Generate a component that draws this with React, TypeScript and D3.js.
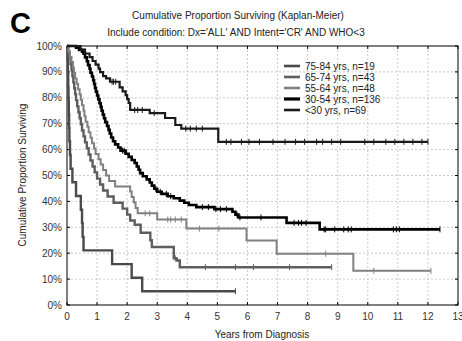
import React, { useEffect } from "react";
import * as d3 from "d3";

// ---------- data ----------
const xTicks = [0, 1, 2, 3, 4, 5, 6, 7, 8, 9, 10, 11, 12, 13];
const yTicks = [0, 10, 20, 30, 40, 50, 60, 70, 80, 90, 100];
const legendLabels = [
  "75-84 yrs,  n=19",
  "65-74 yrs,  n=43",
  "55-64 yrs,  n=48",
  "30-54 yrs,  n=136",
  "<30 yrs,  n=69",
];

// 75-84 yrs
const t75 = [0, 0.02, 0.03, 0.04, 0.05, 0.06, 0.07, 0.08, 0.1, 0.12, 0.18, 0.3, 0.46, 0.5, 0.52, 0.55, 1.5, 2.15, 2.5];
const s75 = [100, 94.7, 89.5, 84.2, 78.9, 73.7, 68.4, 63.2, 57.9, 52.6, 47.4, 42.1, 36.8, 31.6, 26.3, 21.1, 15.8, 10.5, 5.3];
const end75 = 5.6;
const c75: number[] = [];

// 65-74 yrs
const t65 = [0, 0.04, 0.08, 0.12, 0.15, 0.18, 0.21, 0.24, 0.27, 0.3, 0.34, 0.38, 0.42, 0.46, 0.5, 0.55, 0.6, 0.66, 0.72, 0.78, 0.85, 0.92, 1.0, 1.1, 1.2, 1.35, 1.55, 1.85, 2.0, 2.1, 2.25, 2.45, 2.77, 2.82, 3.55, 3.65, 3.75];
const s65 = [100, 97.7, 95.3, 93.0, 90.7, 88.4, 86.0, 83.7, 81.4, 79.1, 76.7, 74.4, 72.1, 69.8, 67.4, 65.1, 62.8, 60.5, 58.1, 55.8, 53.5, 51.2, 48.8, 46.5, 44.2, 41.9, 39.5, 37.2, 34.9, 32.6, 31.0, 27.9, 25.0, 22.4, 18.0, 17.2, 14.6];
const end65 = 8.8;
const c65 = [3.6, 4.6, 5.6, 6.2, 7.4];

// 55-64 yrs
const t55 = [0, 0.05, 0.1, 0.15, 0.2, 0.23, 0.27, 0.32, 0.37, 0.42, 0.46, 0.5, 0.55, 0.58, 0.62, 0.68, 0.72, 0.78, 0.83, 0.9, 0.95, 1.05, 1.12, 1.2, 1.3, 1.4, 1.6, 2.1, 2.15, 2.22, 2.28, 2.35, 3.0, 3.97, 5.97, 6.97, 9.52];
const s55 = [100, 97.9, 95.8, 93.8, 91.7, 89.6, 87.5, 85.4, 83.3, 81.3, 79.2, 77.1, 75.0, 72.9, 70.8, 68.8, 66.7, 64.6, 62.5, 60.4, 58.3, 56.3, 54.2, 52.1, 50.0, 47.9, 45.8, 43.8, 41.7, 39.6, 37.5, 35.4, 33.0, 29.5, 24.9, 19.8, 13.2];
const end55 = 12.1;
const c55 = [2.6, 2.75, 3.35, 3.45, 3.6, 3.8, 4.4, 5.05, 8.6, 10.2];

// 30-54 yrs
const t30 = [0, 0.3, 0.4, 0.5, 0.55, 0.6, 0.66, 0.7, 0.75, 0.78, 0.83, 0.87, 0.9, 0.93, 0.96, 1.0, 1.04, 1.08, 1.12, 1.15, 1.19, 1.23, 1.27, 1.33, 1.38, 1.42, 1.47, 1.53, 1.6, 1.7, 1.78, 1.95, 2.05, 2.15, 2.25, 2.32, 2.38, 2.43, 2.52, 2.65, 2.75, 2.82, 2.9, 3.0, 3.15, 3.35, 3.55, 3.75, 3.9, 4.05, 4.3, 4.9, 5.5, 5.6, 5.7, 7.3, 8.4];
const s30 = [100, 99.3, 98.5, 97.8, 97.0, 95.6, 94.1, 92.6, 91.2, 89.7, 88.2, 86.8, 85.3, 83.8, 82.4, 80.9, 79.4, 77.9, 76.5, 75.0, 73.5, 72.1, 70.6, 69.1, 67.6, 66.2, 64.7, 63.2, 62.0, 60.8, 59.6, 58.4, 57.2, 56.0, 54.8, 53.5, 52.2, 50.9, 49.7, 48.5, 47.3, 46.1, 44.9, 43.7, 42.9, 42.0, 41.2, 40.3, 39.5, 38.6, 37.8, 37.0, 36.0, 34.9, 33.8, 31.7, 29.2];
const end30 = 12.4;
const c30 = [1.85, 1.9, 2.95, 3.1, 3.3, 3.45, 4.5, 4.7, 4.95, 5.1, 5.3, 5.65, 5.75, 6.45, 7.55, 7.7, 7.8, 7.95, 8.55, 8.6, 8.9, 9.2, 9.35, 9.45, 10.85, 10.95, 11.05];

// <30 yrs
const tU = [0, 0.45, 0.6, 0.75, 0.85, 0.95, 1.05, 1.1, 1.2, 1.3, 1.43, 1.75, 1.85, 1.95, 2.0, 2.05, 2.1, 2.75, 3.26, 3.6, 3.8, 5.03];
const sU = [100, 98.6, 97.1, 95.7, 94.2, 92.8, 91.3, 89.9, 88.4, 87.5, 86.2, 84.0, 82.5, 81.0, 79.5, 78.0, 75.3, 74.1, 72.2, 69.5, 68.1, 63.0];
const endU = 12.0;
const cU = [1.5, 1.55, 1.62, 2.25, 2.35, 2.5, 2.9, 3.95, 4.1, 4.3, 4.5, 5.3, 5.45, 5.8, 6.05, 6.4, 6.85, 7.25, 7.6, 7.9, 8.3, 8.5, 8.8, 9.1, 9.9, 10.2, 10.6, 10.9, 11.2, 11.5, 11.8];

const seriesTimes = [t75, t65, t55, t30, tU];
const seriesSurv = [s75, s65, s55, s30, sU];
const seriesEnd = [end75, end65, end55, end30, endU];
const seriesCensor = [c75, c65, c55, c30, cU];

// ---------- styles ----------
const colors = ["#4a4a4a", "#5e5e5e", "#808080", "#000000", "#1a1a1a"];
const widths = [2.4, 2.4, 2.0, 2.6, 2.2];
const FONT = "'Liberation Sans', Arial, sans-serif";

const W = 462;
const H = 341;
const left = 67;
const right = 458;
const top = 46;
const bottom = 305;

export default function App() {
  useEffect(() => {
    document.body.style.margin = "0";
  }, []);

  const x = d3.scaleLinear().domain([0, 13]).range([left, right]);
  const y = d3.scaleLinear().domain([0, 100]).range([bottom, top]);

  const line = d3
    .line<[number, number]>()
    .x((d) => x(d[0]))
    .y((d) => y(d[1]))
    .curve(d3.curveStepAfter);

  const survAt = (ts: number[], ss: number[], t: number) => {
    let v = ss[0];
    for (let i = 0; i < ts.length; i++) if (ts[i] <= t) v = ss[i];
    return v;
  };

  return (
    <svg
      width={W}
      height={H}
      style={{ position: "absolute", left: 0, top: 0, background: "#fff" }}
      fontFamily={FONT}
    >
      <rect x={0} y={0} width={W} height={H} fill="#fff" />
      {/* panel letter */}
      <text x={10} y={33} fontSize={29} fontWeight="bold" fill="#000">
        C
      </text>
      {/* titles */}
      <text x={238} y={19} fontSize={10} textAnchor="middle" fill="#222">
        Cumulative Proportion Surviving (Kaplan-Meier)
      </text>
      <text x={236} y={36} fontSize={10} textAnchor="middle" fill="#222">
        Include condition: Dx='ALL' AND Intent='CR' AND WHO&lt;3
      </text>

      {/* grid */}
      {xTicks.slice(1, -1).map((t) => (
        <line
          key={"gx" + t}
          x1={x(t)}
          x2={x(t)}
          y1={top}
          y2={bottom}
          stroke="#bdbdbd"
          strokeWidth={0.8}
          strokeDasharray="2,2"
        />
      ))}
      {yTicks.slice(1, -1).map((v) => (
        <line
          key={"gy" + v}
          x1={left}
          x2={right}
          y1={y(v)}
          y2={y(v)}
          stroke="#bdbdbd"
          strokeWidth={0.8}
          strokeDasharray="2,2"
        />
      ))}

      {/* frame */}
      <rect x={left} y={top} width={right - left} height={bottom - top} fill="none" stroke="#000" strokeWidth={1} />
      {xTicks.map((t) => (
        <g key={"tx" + t}>
          <line x1={x(t)} x2={x(t)} y1={top} y2={top + 3} stroke="#000" />
          <line x1={x(t)} x2={x(t)} y1={bottom} y2={bottom - 3} stroke="#000" />
        </g>
      ))}
      {yTicks.map((v) => (
        <g key={"ty" + v}>
          <line x1={left} x2={left + 3} y1={y(v)} y2={y(v)} stroke="#000" />
          <line x1={right} x2={right - 3} y1={y(v)} y2={y(v)} stroke="#000" />
        </g>
      ))}

      {/* tick labels */}
      {xTicks.map((t) => (
        <text key={"lx" + t} x={x(t)} y={320} fontSize={10} textAnchor="middle" fill="#333">
          {t}
        </text>
      ))}
      {yTicks.map((v) => (
        <text key={"ly" + v} x={62} y={y(v) + 3.5} fontSize={10} textAnchor="end" fill="#333">
          {v + "%"}
        </text>
      ))}

      {/* axis titles */}
      <text x={262} y={338} fontSize={10} textAnchor="middle" fill="#222">
        Years from Diagnosis
      </text>
      <text
        transform={`translate(26,175) rotate(-90)`}
        fontSize={10}
        textAnchor="middle"
        fill="#222"
      >
        Cumulative Proportion Surviving
      </text>

      {/* curves */}
      {seriesTimes.map((ts, i) => {
        const pts: [number, number][] = ts.map((t, j) => [t, seriesSurv[i][j]]);
        pts.push([seriesEnd[i], seriesSurv[i][seriesSurv[i].length - 1]]);
        return (
          <path
            key={"c" + i}
            d={line(pts) || ""}
            fill="none"
            stroke={colors[i]}
            strokeWidth={widths[i]}
            strokeLinejoin="miter"
          />
        );
      })}
      {/* censor marks */}
      {seriesCensor.map((cs, i) =>
        [...cs, seriesEnd[i]].map((t, k) => {
          const v = survAt(seriesTimes[i], seriesSurv[i], t);
          return (
            <line
              key={"m" + i + "-" + k}
              x1={x(t)}
              x2={x(t)}
              y1={y(v) - 3}
              y2={y(v) + 3}
              stroke={colors[i]}
              strokeWidth={1}
            />
          );
        })
      )}

      {/* legend */}
      {legendLabels.map((lab, i) => {
        const ly = 66 + i * 11;
        return (
          <g key={"lg" + i}>
            <line x1={284} x2={300} y1={ly} y2={ly} stroke={colors[i]} strokeWidth={i === 3 ? 3.2 : 2.6} />
            <text x={305} y={ly + 3.5} fontSize={10} fill="#222">
              {lab}
            </text>
          </g>
        );
      })}
    </svg>
  );
}
